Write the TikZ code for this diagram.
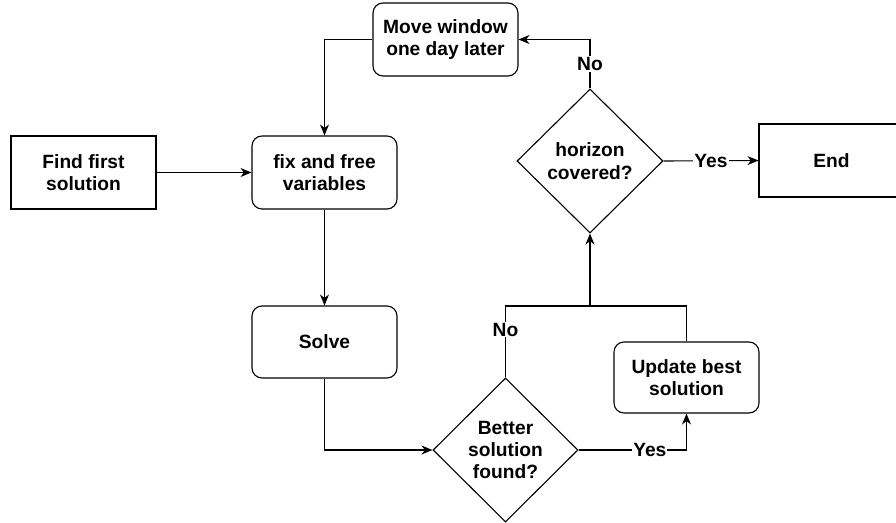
\documentclass[tikz,border=0pt]{standalone}
\usepackage{fontspec}
\setmainfont{Liberation Sans}
\usetikzlibrary{shapes.geometric,arrows.meta}
\begin{document}
\begin{tikzpicture}[x=1pt,y=-1pt,
  every node/.style={font=\bfseries\fontsize{19.2}{22.3}\selectfont, align=center},
  box/.style={draw, line width=1.1pt, minimum width=145pt, minimum height=73pt, inner sep=0pt},
  rbox/.style={box, rounded corners=10pt},
  dia/.style={draw, line width=1.1pt, diamond, inner sep=0pt, minimum width=146pt, minimum height=144pt},
  arr/.style={line width=1.1pt, -{Stealth[length=11pt,width=9pt,inset=3.5pt]}},
  ln/.style={line width=1.1pt},
  lbl/.style={fill=white, inner sep=1pt}]
\clip (0,0) rectangle (896,522);
\fill[white] (0,0) rectangle (896,522);
\node[box] (find) at (83.5,172.5) {Find first\\solution};
\node[rbox] (fix) at (324.5,172.5) {fix and free\\variables};
\node[rbox] (move) at (445.5,39.5) {Move window\\one day later};
\node[rbox, minimum height=72pt] (solve) at (324.5,342) {Solve};
\node[rbox, minimum height=71pt] (update) at (686.5,377.5) {Update best\\solution};
\node[box] (end) at (831.5,160.5) {End};
\node[dia] (horizon) at (590,161) {horizon\\covered?};
\node[dia, minimum width=145pt] (better) at (505.5,450) {Better\\solution\\found?};
\coordinate (j) at (590,306);

\draw[arr] (find.east) -- (fix.west);
\draw[arr] (move.west) -| (fix.north);
\draw[arr] (fix.south) -- (solve.north);
\draw[arr] (solve.south) |- (better.west);
\draw[arr] (better.east) -- node[lbl, pos=0.66] {Yes} (better.east -| update.south) -- (update.south);
\draw[arr] (better.north) -- node[lbl, pos=0.67] {No} (better.north |- j) -- (j) -- (horizon.south);
\draw[ln] (update.north) |- (j);
\draw[arr] (horizon.east) -- node[lbl] {Yes} (end.west);
\draw[arr] (horizon.north) -- node[lbl] {No} (horizon.north |- move.east) -- (move.east);
\end{tikzpicture}
\end{document}
